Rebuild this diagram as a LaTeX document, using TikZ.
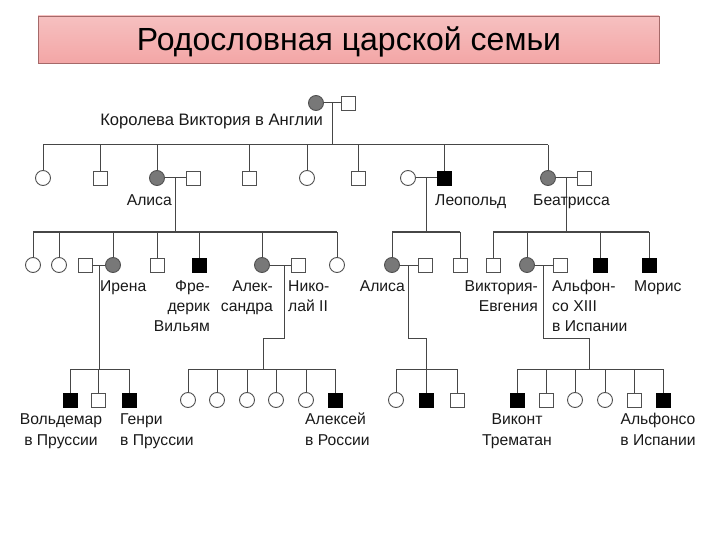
\documentclass[tikz,border=0pt]{standalone}
\usepackage{fontspec}
\setmainfont{Liberation Sans}
\usetikzlibrary{calc}
\definecolor{linec}{RGB}{70,70,70}
\definecolor{shapec}{RGB}{80,80,80}
\definecolor{carrier}{RGB}{120,120,120}
\definecolor{boxline}{RGB}{165,105,105}
\definecolor{pinktop}{RGB}{246,192,192}
\definecolor{pinkmid}{RGB}{252,226,226}
\definecolor{pinkbot}{RGB}{243,166,166}
\begin{document}
\begin{tikzpicture}[x=1pt,y=-1pt,
  lbl/.style={font=\fontsize{15.7}{18}\selectfont, inner sep=0pt, text=black!90},
  fem/.style={circle, draw=shapec, line width=0.9pt, fill=white, minimum size=15pt, inner sep=0pt},
  mal/.style={rectangle, draw=shapec, line width=0.9pt, fill=white, minimum size=14pt, inner sep=0pt},
  car/.style={fill=carrier},
  aff/.style={fill=black, draw=black},
  ln/.style={draw=linec, line width=1pt}]
\useasboundingbox (0,0) rectangle (720,540);
% title
\node[draw=boxline, line width=0.8pt, top color=pinktop, middle color=pinkmid, bottom color=pinkbot,
      minimum width=621pt, minimum height=47pt, inner sep=0pt] (titlebox) at (348.5,39.5) {};
\node[font=\fontsize{32}{36}\selectfont, anchor=base, inner sep=0pt] (title) at (349,51) {Родословная царской семьи};
% bars
\coordinate (bar2) at (0,145);
\coordinate (bar3) at (0,232);
\coordinate (bar4) at (0,369);
% generation 1
\node[fem,car] (vic) at (316,103) {};
\node[mal] (alb) at (348,103) {};
\coordinate (vicd) at (332,103);
\draw[ln] (vic) -- (alb);
\draw[ln] (vicd) -- (vicd |- bar2);
\node[lbl, font=\fontsize{16.6}{19}\selectfont, anchor=base east] (lvic) at (323,126) {Королева Виктория в Англии};
% generation 2
\node[fem] (g2a) at (43,178) {};
\node[mal] (g2b) at (100,178) {};
\node[fem,car] (alice) at (157,178) {};
\node[mal] (alicem) at (193,178) {};
\node[mal] (g2c) at (249,178) {};
\node[fem] (g2d) at (307,178) {};
\node[mal] (g2e) at (358,178) {};
\node[fem] (leow) at (408,178) {};
\node[mal,aff] (leo) at (444,178) {};
\node[fem,car] (bea) at (548,178) {};
\node[mal] (beam) at (584,178) {};
\draw[ln] (g2a |- bar2) -- (bea |- bar2);
\foreach \n in {g2a,g2b,alice,g2c,g2d,g2e,leo,bea} \draw[ln] (\n.north) -- (\n |- bar2);
\draw[ln] (alice) -- (alicem);
\draw[ln] (leow) -- (leo);
\draw[ln] (bea) -- (beam);
\coordinate (alid) at (175,178);
\coordinate (leod) at (426,178);
\coordinate (bead) at (566,178);
\foreach \n in {alid,leod,bead} \draw[ln] (\n) -- (\n |- bar3);
\node[lbl, anchor=base east] (lalice) at (172,206) {Алиса};
\node[lbl, anchor=base west] (lleo) at (435,206) {Леопольд};
\node[lbl, anchor=base west] (lbea) at (533,206) {Беатрисса};
% generation 3
\node[fem] (k3a) at (33,265) {};
\node[fem] (k3b) at (59,265) {};
\node[mal] (heinr) at (85,265) {};
\node[fem,car] (irene) at (113,265) {};
\node[mal] (k3c) at (157,265) {};
\node[mal,aff] (fw) at (199,265) {};
\node[fem,car] (alex) at (262,265) {};
\node[mal] (nich) at (298,265) {};
\node[fem] (k3d) at (337,265) {};
\node[fem,car] (alice2) at (392,265) {};
\node[mal] (louis) at (425,265) {};
\node[mal] (k3e) at (460,265) {};
\node[mal] (k3f) at (493,265) {};
\node[fem,car] (ve) at (527,265) {};
\node[mal] (alf) at (560,265) {};
\node[mal,aff] (k3g) at (600,265) {};
\node[mal,aff] (mor) at (649,265) {};
\draw[ln] (k3a |- bar3) -- (k3d |- bar3);
\draw[ln] (alice2 |- bar3) -- (k3e |- bar3);
\draw[ln] (k3f |- bar3) -- (mor |- bar3);
\foreach \n in {k3a,k3b,irene,k3c,fw,alex,k3d,alice2,k3e,k3f,ve,k3g,mor} \draw[ln] (\n.north) -- (\n |- bar3);
\draw[ln] (heinr) -- (irene);
\draw[ln] (alex) -- (nich);
\draw[ln] (alice2) -- (louis);
\draw[ln] (ve) -- (alf);
\coordinate (ired) at (99,265);
\coordinate (alexd) at (284,265);
\coordinate (alexj) at (263,338);
\coordinate (a2d) at (408.5,265);
\coordinate (a2j) at (426,338);
\coordinate (ved) at (543.5,265);
\coordinate (vej) at (589,338);
\draw[ln] (ired) -- (ired |- bar4);
\draw[ln] (alexd) |- (alexj) -- (alexj |- bar4);
\draw[ln] (a2d) |- (a2j) -- (a2j |- bar4);
\draw[ln] (ved) |- (vej) -- (vej |- bar4);
\node[lbl, anchor=base west] (lirene) at (100,291) {Ирена};
\node[lbl, anchor=base east] (lfw1) at (210,291) {Фре-};
\node[lbl, anchor=base east] (lfw2) at (210,311) {дерик};
\node[lbl, anchor=base east] (lfw3) at (210,331) {Вильям};
\node[lbl, anchor=base east] (lalex1) at (273,291) {Алек-};
\node[lbl, anchor=base east] (lalex2) at (273,311) {сандра};
\node[lbl, anchor=base west] (lnich1) at (288,291) {Нико-};
\node[lbl, anchor=base west] (lnich2) at (288,311) {лай II};
\node[lbl, anchor=base east] (lalice2) at (405,291) {Алиса};
\node[lbl, anchor=base east] (lve1) at (538,291) {Виктория-};
\node[lbl, anchor=base east] (lve2) at (538,311) {Евгения};
\node[lbl, anchor=base west] (lalf1) at (552,291) {Альфон-};
\node[lbl, anchor=base west] (lalf2) at (552,311) {со XIII};
\node[lbl, anchor=base west] (lalf3) at (552,331) {в Испании};
\node[lbl, anchor=base west] (lmor) at (634,291) {Морис};
% generation 4
\node[mal,aff] (wal) at (70,400) {};
\node[mal] (k4a) at (98,400) {};
\node[mal,aff] (hen) at (129,400) {};
\node[fem] (d1) at (188,400) {};
\node[fem] (d2) at (217,400) {};
\node[fem] (d3) at (247,400) {};
\node[fem] (d4) at (276,400) {};
\node[fem] (d5) at (306,400) {};
\node[mal,aff] (alexei) at (335,400) {};
\node[fem] (k4b) at (396,400) {};
\node[mal,aff] (k4c) at (426,400) {};
\node[mal] (k4d) at (457,400) {};
\node[mal,aff] (vis) at (517,400) {};
\node[mal] (k4e) at (546,400) {};
\node[fem] (k4f) at (575,400) {};
\node[fem] (k4g) at (605,400) {};
\node[mal] (k4h) at (634,400) {};
\node[mal,aff] (alfs) at (663,400) {};
\draw[ln] (wal |- bar4) -- (hen |- bar4);
\draw[ln] (d1 |- bar4) -- (alexei |- bar4);
\draw[ln] (k4b |- bar4) -- (k4d |- bar4);
\draw[ln] (vis |- bar4) -- (alfs |- bar4);
\foreach \n in {wal,k4a,hen,d1,d2,d3,d4,d5,alexei,k4b,k4c,k4d,vis,k4e,k4f,k4g,k4h,alfs} \draw[ln] (\n.north) -- (\n |- bar4);
\node[lbl, anchor=base] (lwal1) at (61,424) {Вольдемар};
\node[lbl, anchor=base] (lwal2) at (61,445) {в Пруссии};
\node[lbl, anchor=base west] (lhen1) at (120,424) {Генри};
\node[lbl, anchor=base west] (lhen2) at (120,445) {в Пруссии};
\node[lbl, anchor=base west] (laxe1) at (305,424) {Алексей};
\node[lbl, anchor=base west] (laxe2) at (305,445) {в России};
\node[lbl, anchor=base] (lvis1) at (517,424) {Виконт};
\node[lbl, anchor=base] (lvis2) at (517,445) {Трематан};
\node[lbl, anchor=base] (lalfs1) at (658,424) {Альфонсо};
\node[lbl, anchor=base] (lalfs2) at (658,445) {в Испании};
\end{tikzpicture}
\end{document}
